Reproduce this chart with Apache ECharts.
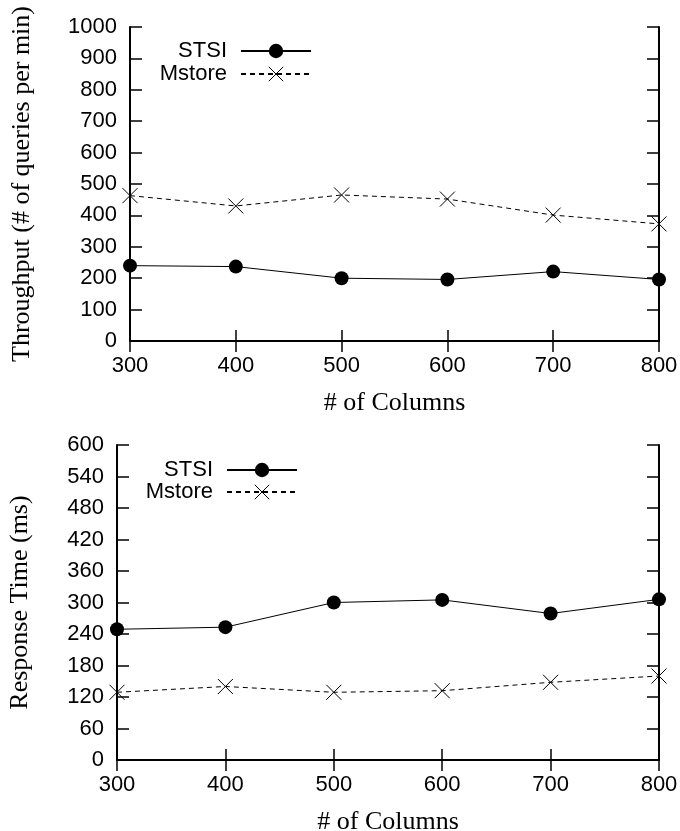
<!DOCTYPE html>
<html>
<head>
<meta charset="utf-8">
<script src="https://cdn.jsdelivr.net/npm/echarts@6/dist/echarts.min.js"></script>
<style>html,body{margin:0;padding:0;background:#fff}#c{width:680px;height:831px}</style>
</head>
<body>
<div id="c"></div>
<script>
var columns = [300, 400, 500, 600, 700, 800];
var throughputSTSI = [240, 237, 200, 196, 221, 196];
var throughputMstore = [463, 430, 465, 452, 401, 373];
var responseSTSI = [249, 253, 300, 305, 279, 306];
var responseMstore = [129, 140, 129, 132, 148, 160];
var throughputTicks = [0, 1000, 100];
var responseTicks = [0, 600, 60];

function pairs(ys) { return columns.map(function (x, i) { return [x, ys[i]]; }); }

var SANS = 'Liberation Sans';
var SERIF = 'Liberation Serif';
var CROSS = 'path://M0,0L10,10M10,0L0,10';
function plain(v) { return String(v); }

function xAxes(grid) {
  var base = {
    gridIndex: grid, type: 'value', min: columns[0], max: columns[columns.length - 1], interval: 100,
    splitLine: { show: false },
    axisLine: { show: true, lineStyle: { color: '#000', width: 2 } },
    axisTick: { show: true, inside: true, length: 11, lineStyle: { color: '#000', width: 1.5 } }
  };
  var bottom = Object.assign({}, base, {
    position: 'bottom',
    axisLabel: { color: '#000', fontSize: 22, fontFamily: SANS, margin: 14, formatter: plain },
    name: '# of Columns', nameLocation: 'middle', nameGap: 49,
    nameTextStyle: { color: '#000', fontSize: 26, fontFamily: SERIF }
  });
  var top = Object.assign({}, base, { position: 'top', axisLabel: { show: false } });
  return [bottom, top];
}
function yAxes(grid, t, name, gap) {
  var base = {
    gridIndex: grid, type: 'value', min: t[0], max: t[1], interval: t[2],
    splitLine: { show: false },
    axisLine: { show: true, lineStyle: { color: '#000', width: 2 } },
    axisTick: { show: true, inside: true, length: 12, lineStyle: { color: '#000', width: 1.5 } }
  };
  var left = Object.assign({}, base, {
    position: 'left',
    axisLabel: { color: '#000', fontSize: 22, fontFamily: SANS, margin: 13, formatter: plain },
    name: name, nameLocation: 'middle', nameGap: gap,
    nameTextStyle: { color: '#000', fontSize: 26, fontFamily: SERIF }
  });
  var right = Object.assign({}, base, { position: 'right', axisLabel: { show: false } });
  return [left, right];
}
function stsi(xi, yi, data) {
  return {
    name: 'STSI', type: 'line', xAxisIndex: xi, yAxisIndex: yi, data: pairs(data),
    symbol: 'circle', symbolSize: 14, itemStyle: { color: '#000' },
    lineStyle: { color: '#000', width: 1 }, animation: false, z: 3
  };
}
function mstore(xi, yi, data) {
  return {
    name: 'Mstore', type: 'line', xAxisIndex: xi, yAxisIndex: yi, data: pairs(data),
    symbol: CROSS, symbolSize: 15,
    itemStyle: { color: 'rgba(0,0,0,0)', borderColor: '#000', borderWidth: 1 },
    lineStyle: { color: '#000', width: 1, type: [5, 4] }, animation: false, z: 2
  };
}
function legend(name, right, top) {
  return {
    data: [name], right: right, top: top, padding: 0, selectedMode: false,
    align: 'right', itemWidth: 70, itemHeight: 18,
    itemStyle: { borderWidth: 1 },
    textStyle: { color: '#000', fontSize: 22, fontFamily: SANS, padding: [0, 9, 0, 0] }
  };
}

var chart = echarts.init(document.getElementById('c'));
chart.setOption({
  backgroundColor: '#fff',
  animation: false,
  grid: [
    { left: 130, top: 27, width: 529, height: 314, outerBoundsMode: 'none', containLabel: false },
    { left: 117, top: 445, width: 542, height: 315, outerBoundsMode: 'none', containLabel: false }
  ],
  xAxis: xAxes(0).concat(xAxes(1)),
  yAxis: yAxes(0, throughputTicks, 'Throughput (# of queries per min)', 95)
    .concat(yAxes(1, responseTicks, 'Response Time (ms)', 84)),
  legend: [
    legend('STSI', 368, 40),
    legend('Mstore', 368, 63),
    legend('STSI', 382, 459),
    legend('Mstore', 382, 481)
  ],
  series: [
    stsi(0, 0, throughputSTSI),
    mstore(0, 0, throughputMstore),
    stsi(2, 2, responseSTSI),
    mstore(2, 2, responseMstore)
  ]
});
</script>
</body>
</html>
